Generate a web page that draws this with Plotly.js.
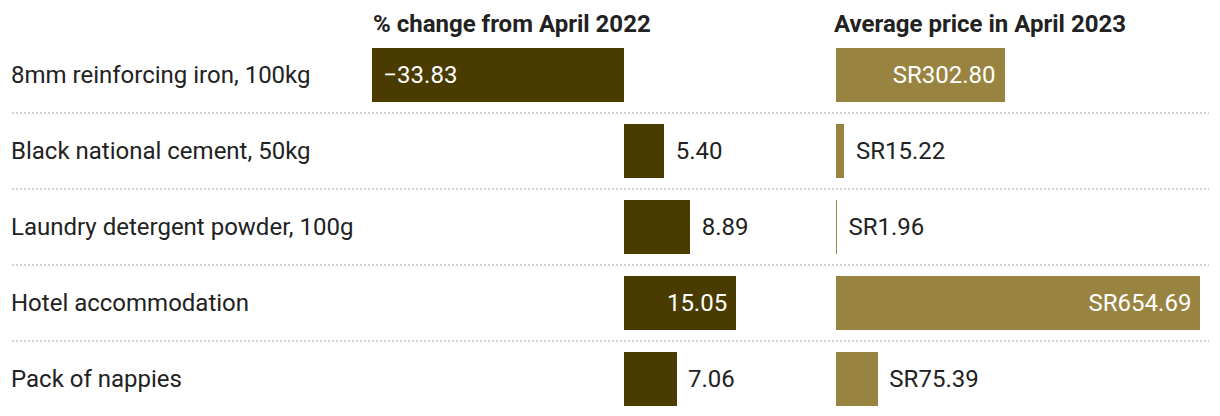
<!DOCTYPE html>
<html>
<head>
<meta charset="utf-8">
<script src="https://cdn.plot.ly/plotly-3.0.1.min.js"></script>
<style>html,body{margin:0;padding:0;background:#fff;}#chart{width:1220px;height:416px;}</style>
</head>
<body>
<div id="chart"></div>
<script>
const categories = [
  "8mm reinforcing iron, 100kg",
  "Black national cement, 50kg",
  "Laundry detergent powder, 100g",
  "Hotel accommodation",
  "Pack of nappies"
];
const pctChange = [-33.83, 5.40, 8.89, 15.05, 7.06];
const avgPrice = [302.80, 15.22, 1.96, 654.69, 75.39];
const pctPositions = ["inside", "outside", "outside", "inside", "outside"];
const pricePositions = ["inside", "outside", "outside", "inside", "outside"];
const headers = ["% change from April 2022", "Average price in April 2023"];

const DARK = "#4a3c00";
const LIGHT = "#988440";
const TXT = "#222222";
const FONT = "Roboto, 'Noto Sans', sans-serif";
const NB = "\u00a0";
const HS = "\u200a";
const VAL_SIZE = 24, LABEL_SIZE = 24, HEAD_SIZE = 24;

function fmt(v) { return v.toFixed(2).replace("-", "\u2212"); }
function pad(str, pos, neg) {
  if (pos === "inside") return neg ? NB + HS + str : str + NB;
  return neg ? str + NB + HS : NB + HS + str;
}

const pctText = pctChange.map((v, i) => pad(fmt(v), pctPositions[i], v < 0));
const priceText = avgPrice.map((v, i) => pad("SR" + fmt(v), pricePositions[i], v < 0));

const traces = [
  {
    type: "bar", orientation: "h",
    x: pctChange, y: categories,
    xaxis: "x", yaxis: "y",
    width: 0.7105,
    marker: {color: DARK},
    text: pctText, textposition: pctPositions,
    insidetextanchor: "end",
    insidetextfont: {family: FONT, size: VAL_SIZE, color: "#ffffff"},
    outsidetextfont: {family: FONT, size: VAL_SIZE, color: TXT},
    constraintext: "none", cliponaxis: false,
    hoverinfo: "skip"
  },
  {
    type: "bar", orientation: "h",
    x: avgPrice, y: categories,
    xaxis: "x2", yaxis: "y",
    width: 0.7105,
    marker: {color: LIGHT},
    text: priceText, textposition: pricePositions,
    insidetextanchor: "end",
    insidetextfont: {family: FONT, size: VAL_SIZE, color: "#ffffff"},
    outsidetextfont: {family: FONT, size: VAL_SIZE, color: TXT},
    constraintext: "none", cliponaxis: false,
    hoverinfo: "skip"
  }
];

const W = 1220;
const pxPerPct = 7.45, zeroPct = 624;
const pxPerSR = 0.5565, zeroSR = 836;
const d1 = [0, 0.64], d2 = [0.66, 1];
const r1 = [(d1[0]*W - zeroPct)/pxPerPct, (d1[1]*W - zeroPct)/pxPerPct];
const r2 = [(d2[0]*W - zeroSR)/pxPerSR, (d2[1]*W - zeroSR)/pxPerSR];

const hiddenAxis = {showticklabels: false, showgrid: false, zeroline: false, showline: false, ticks: "", fixedrange: true};

const shapes = [];
for (let i = 0; i < categories.length - 1; i++) {
  shapes.push({type: "line", xref: "paper", yref: "y", x0: 12/W, x1: 1209/W, y0: i + 0.5, y1: i + 0.5,
    line: {color: "#d2d2d2", width: 2, dash: "2px,2px"}, layer: "below"});
}

const annotations = categories.map(c => ({
  xref: "paper", yref: "y", x: 9/W, y: c, xanchor: "left", yanchor: "middle",
  text: c, showarrow: false, font: {family: FONT, size: LABEL_SIZE, color: TXT}
}));
annotations.push({xref: "paper", yref: "paper", x: 371/W, y: 1 - 24/416, xanchor: "left", yanchor: "middle",
  text: "<b>" + headers[0] + "</b>", showarrow: false, font: {family: FONT, size: HEAD_SIZE, color: TXT}});
annotations.push({xref: "paper", yref: "paper", x: 832/W, y: 1 - 24/416, xanchor: "left", yanchor: "middle",
  text: "<b>" + headers[1] + "</b>", showarrow: false, font: {family: FONT, size: HEAD_SIZE, color: TXT}});

const layout = {
  width: 1220, height: 416,
  margin: {l: 0, r: 0, t: 0, b: 0, pad: 0},
  paper_bgcolor: "#ffffff", plot_bgcolor: "#ffffff",
  showlegend: false,
  bargap: 0,
  xaxis: Object.assign({domain: d1, range: r1}, hiddenAxis),
  xaxis2: Object.assign({domain: d2, range: r2, anchor: "y"}, hiddenAxis),
  yaxis: Object.assign({type: "category", range: [4.48684, -0.98684], autorange: false}, hiddenAxis),
  shapes: shapes,
  annotations: annotations,
  font: {family: FONT, size: 24, color: TXT}
};

Plotly.newPlot("chart", traces, layout, {displayModeBar: false, staticPlot: true});
</script>
</body>
</html>
